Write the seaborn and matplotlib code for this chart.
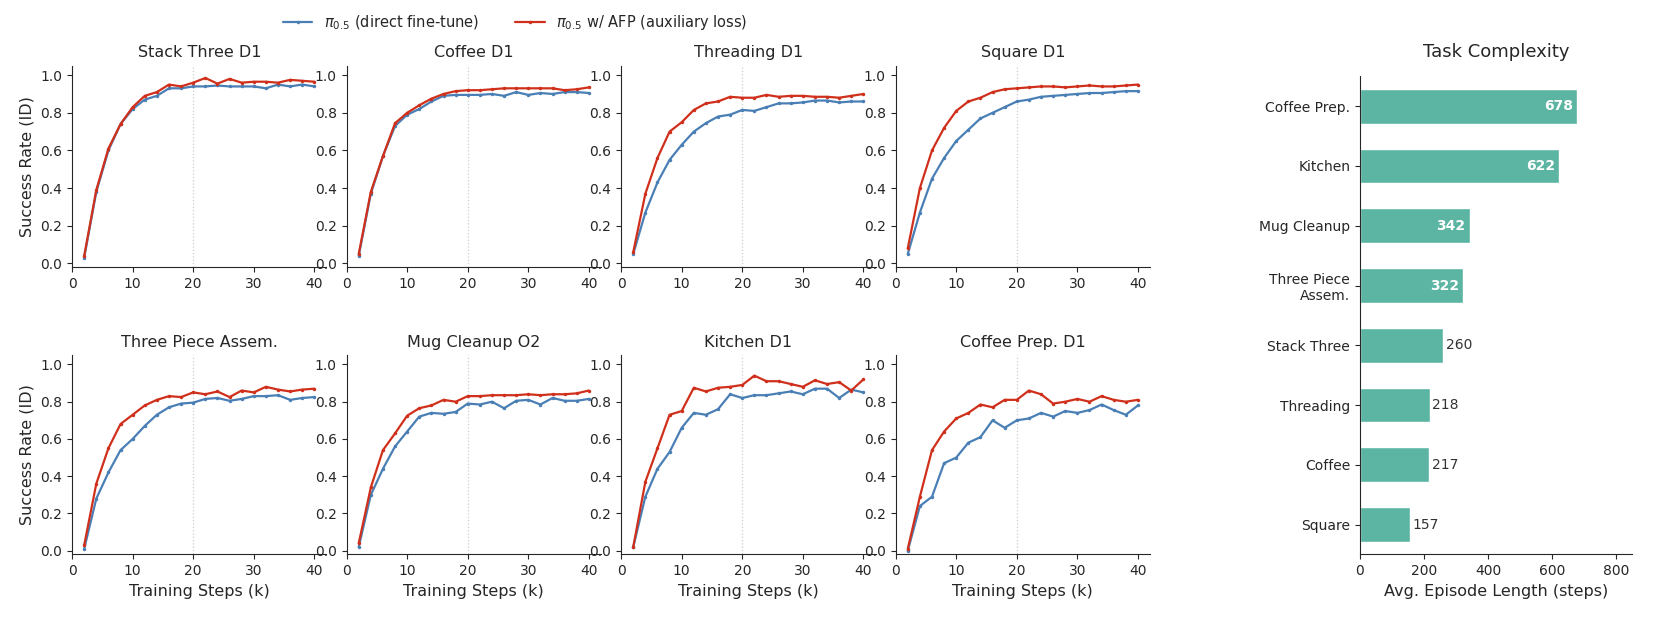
import numpy as np
import pandas as pd
import matplotlib
matplotlib.use('Agg')
import matplotlib.pyplot as plt
import seaborn as sns

sns.set_style('ticks')
plt.rcParams['font.family'] = ['DejaVu Sans']

steps = list(range(2, 41, 2))
titles = ['Stack Three D1', 'Coffee D1', 'Threading D1', 'Square D1',
          'Three Piece Assem.', 'Mug Cleanup O2', 'Kitchen D1', 'Coffee Prep. D1']

base = [
    [.03,.38,.60,.74,.82,.87,.89,.93,.93,.94,.94,.945,.94,.94,.94,.93,.95,.94,.95,.94],
    [.04,.37,.57,.73,.79,.82,.86,.89,.895,.895,.895,.90,.89,.91,.895,.905,.90,.91,.91,.905],
    [.05,.27,.43,.55,.63,.70,.745,.78,.79,.815,.81,.83,.85,.85,.855,.865,.865,.855,.86,.86],
    [.05,.27,.45,.56,.65,.71,.77,.80,.83,.86,.87,.885,.89,.895,.90,.905,.905,.91,.915,.915],
    [.01,.28,.42,.54,.60,.67,.73,.77,.79,.795,.815,.82,.805,.815,.83,.83,.835,.81,.82,.825],
    [.02,.30,.44,.56,.64,.72,.74,.735,.745,.79,.785,.80,.765,.805,.81,.785,.82,.805,.805,.815],
    [.02,.29,.44,.53,.66,.74,.73,.76,.84,.82,.835,.835,.845,.855,.84,.87,.87,.82,.865,.85],
    [.00,.24,.29,.47,.50,.58,.61,.70,.66,.70,.71,.74,.72,.75,.74,.755,.785,.755,.73,.78],
]
afp = [
    [.04,.39,.61,.74,.83,.89,.91,.95,.94,.96,.985,.955,.98,.96,.965,.965,.96,.975,.97,.965],
    [.05,.38,.57,.745,.80,.84,.875,.90,.915,.92,.92,.925,.93,.93,.93,.93,.93,.92,.925,.935],
    [.06,.37,.56,.70,.75,.815,.85,.86,.885,.88,.88,.895,.885,.89,.89,.885,.885,.88,.89,.90],
    [.08,.40,.60,.72,.81,.86,.88,.91,.925,.93,.935,.94,.94,.935,.94,.945,.94,.94,.945,.95],
    [.03,.36,.55,.68,.73,.78,.81,.83,.825,.85,.84,.855,.825,.86,.85,.88,.865,.855,.865,.87],
    [.04,.34,.54,.63,.725,.765,.78,.81,.80,.83,.83,.835,.835,.835,.84,.835,.84,.84,.845,.86],
    [.02,.37,.55,.73,.75,.875,.855,.875,.88,.89,.94,.91,.91,.895,.88,.915,.895,.905,.86,.92],
    [.01,.29,.54,.64,.71,.74,.785,.77,.81,.81,.86,.84,.79,.80,.815,.80,.83,.81,.80,.81],
]

tasks = ['Coffee Prep.', 'Kitchen', 'Mug Cleanup', 'Three Piece\nAssem.',
         'Stack Three', 'Threading', 'Coffee', 'Square']
lengths = [678, 622, 342, 322, 260, 218, 217, 157]

BLUE = '#4a7fb5'
RED = '#d0301b'
TEAL = '#5bb5a2'

W, H = 1662, 617
fig = plt.figure(figsize=(W / 100, H / 100), dpi=100)

# layout measured on a 1568-wide view of the reference
VW, VH = 1568, 582
def px(l, t, r, b):
    return [l / VW, 1 - b / VH, (r - l) / VW, (b - t) / VH]

lefts = [68, 327, 586, 845]
rows = [(62, 252), (335, 523)]
for i in range(8):
    r, c = divmod(i, 4)
    ax = fig.add_axes(px(lefts[c], rows[r][0], lefts[c] + 240, rows[r][1]))
    df = pd.DataFrame({'step': steps, 'base': base[i], 'afp': afp[i]})
    ax.axvline(20, color='#cccccc', ls=':', lw=0.9, zorder=0)
    sns.lineplot(data=df, x='step', y='base', ax=ax, color=BLUE, lw=1.6,
                 marker='o', markersize=2.5, markeredgewidth=0,
                 label=r'$\pi_{0.5}$ (direct fine-tune)' if i == 0 else None)
    sns.lineplot(data=df, x='step', y='afp', ax=ax, color=RED, lw=1.6,
                 marker='o', markersize=2.5, markeredgewidth=0,
                 label=r'$\pi_{0.5}$ w/ AFP (auxiliary loss)' if i == 0 else None)
    ax.set_xlim(0, 42)
    ax.set_ylim(-0.02, 1.05)
    ax.set_xticks([0, 10, 20, 30, 40])
    ax.set_yticks([0, 0.2, 0.4, 0.6, 0.8, 1.0])
    ax.set_title(titles[i], fontsize=11.5)
    ax.set_xlabel('Training Steps (k)' if r == 1 else '', fontsize=11.5)
    ax.set_ylabel('Success Rate (ID)' if c == 0 else '', fontsize=11.5)
    ax.tick_params(labelsize=10)
    sns.despine(ax=ax)
    if i == 0:
        h, l = ax.get_legend_handles_labels()
        ax.get_legend().remove()
        fig.legend(h, l, loc='upper center', ncol=2, frameon=False, fontsize=10.5,
                   bbox_to_anchor=(0.31, 1.0), columnspacing=2.5)

bx = fig.add_axes(px(1283, 72, 1540, 523))
bdf = pd.DataFrame({'task': tasks, 'len': lengths})
sns.barplot(data=bdf, y='task', x='len', ax=bx, color=TEAL, width=0.58, saturation=1)
for j, v in enumerate(lengths):
    if v > 300:
        bx.text(v - 12, j, str(v), ha='right', va='center', color='white',
                fontweight='bold', fontsize=10)
    else:
        bx.text(v + 8, j, str(v), ha='left', va='center', color='#333333', fontsize=10)
bx.set_xlim(0, 850)
bx.set_xticks([0, 200, 400, 600, 800])
bx.set_xlabel('Avg. Episode Length (steps)', fontsize=11.5)
bx.set_ylabel('')
bx.set_title('Task Complexity', fontsize=13, pad=14)
bx.tick_params(labelsize=10)
sns.despine(ax=bx)

fig.savefig('out.png', dpi=100)
